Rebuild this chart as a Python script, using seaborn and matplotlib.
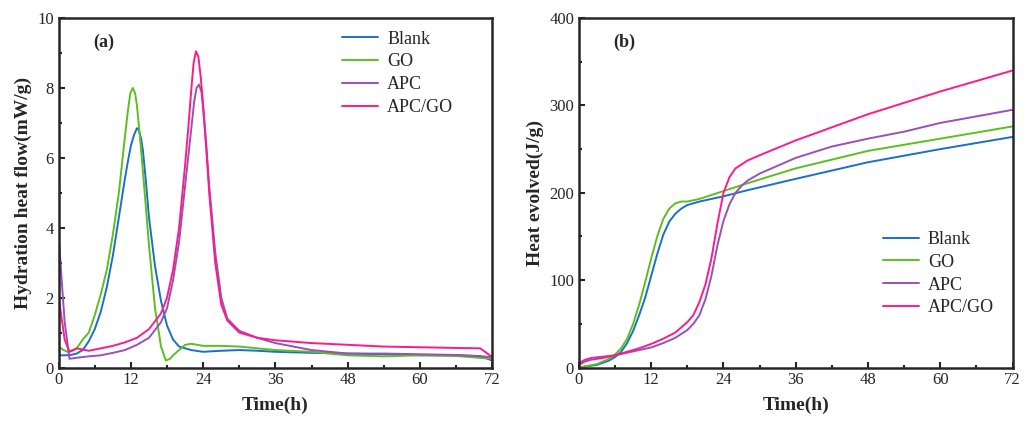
import numpy as np
import pandas as pd
import seaborn as sns
import matplotlib.pyplot as plt
from matplotlib.ticker import MultipleLocator

# ---- (a) hydration heat flow, mW/g ----
blank_t = [0, 1, 2, 3, 4, 5, 6, 7, 8, 9, 10, 11, 11.5, 12, 12.5, 13, 13.3, 13.7, 14, 14.5, 15, 16, 17, 18, 19, 20, 22, 24, 27, 30, 33, 36, 42, 48, 54, 60, 66, 70, 72]
blank_q = [0.35, 0.35, 0.36, 0.4, 0.5, 0.75, 1.1, 1.6, 2.3, 3.2, 4.3, 5.4, 5.9, 6.35, 6.65, 6.85, 6.8, 6.55, 6.2, 5.3, 4.3, 2.9, 1.9, 1.2, 0.8, 0.6, 0.5, 0.45, 0.48, 0.5, 0.48, 0.45, 0.42, 0.4, 0.38, 0.35, 0.35, 0.33, 0.2]

go_t = [0, 0.8, 1.5, 3, 4, 5, 6, 7, 8, 9, 10, 10.5, 11, 11.5, 11.9, 12.3, 12.7, 13, 13.5, 14, 15, 16, 17, 17.8, 18.5, 19, 20, 21, 22, 24, 27, 30, 36, 42, 48, 54, 60, 66, 72]
go_q = [0.6, 0.5, 0.45, 0.55, 0.8, 1.0, 1.5, 2.1, 2.8, 3.8, 5.0, 5.8, 6.6, 7.35, 7.85, 8.0, 7.85, 7.5, 6.6, 5.6, 3.5, 1.7, 0.6, 0.2, 0.25, 0.35, 0.5, 0.65, 0.68, 0.62, 0.62, 0.6, 0.5, 0.45, 0.35, 0.32, 0.35, 0.33, 0.25]

apc_t = [0, 0.5, 1, 1.8, 3, 5, 7, 9, 11, 13, 15, 17, 18, 19, 20, 21, 22, 22.5, 22.9, 23.3, 23.7, 24, 24.5, 25, 26, 27, 28, 30, 33, 36, 42, 48, 54, 60, 66, 72]
apc_q = [3.8, 2.5, 1.3, 0.25, 0.28, 0.32, 0.35, 0.42, 0.5, 0.65, 0.85, 1.3, 1.7, 2.5, 3.6, 5.2, 6.8, 7.6, 8.0, 8.1, 7.9, 7.4, 6.4, 5.2, 3.3, 2.0, 1.4, 1.05, 0.85, 0.7, 0.5, 0.4, 0.4, 0.38, 0.36, 0.3]

apcgo_t = [0, 0.5, 1, 1.8, 2.5, 3, 5, 7, 9, 11, 13, 15, 17, 18, 19, 20, 21, 21.5, 22, 22.4, 22.8, 23.2, 23.6, 24, 24.5, 25, 26, 27, 28, 30, 33, 36, 42, 48, 54, 60, 66, 70, 72]
apcgo_q = [2.0, 1.4, 0.8, 0.45, 0.5, 0.55, 0.48, 0.55, 0.62, 0.72, 0.85, 1.1, 1.55, 2.0, 2.8, 4.0, 5.8, 6.8, 7.9, 8.7, 9.05, 8.9, 8.3, 7.5, 6.3, 5.0, 3.0, 1.8, 1.35, 1.0, 0.85, 0.78, 0.7, 0.65, 0.6, 0.58, 0.56, 0.55, 0.3]

# ---- (b) cumulative heat, J/g ----
blank_ht = [0, 3, 5, 6, 7, 8, 9, 10, 11, 12, 13, 14, 15, 16, 17, 18, 20, 24, 28, 36, 48, 60, 72]
blank_h = [0, 3, 8, 12, 18, 28, 42, 60, 80, 105, 130, 152, 167, 176, 182, 186, 190, 196, 203, 216, 235, 250, 264]

go_ht = [0, 3, 5, 6, 7, 8, 9, 10, 11, 12, 13, 14, 15, 16, 17, 18, 20, 24, 28, 36, 48, 60, 72]
go_h = [0, 4, 10, 15, 22, 33, 50, 72, 98, 125, 150, 170, 182, 188, 190, 190, 193, 202, 211, 228, 248, 262, 276]

apc_ht = [0, 1, 2, 4, 6, 8, 10, 12, 14, 16, 18, 19, 20, 21, 22, 23, 24, 25, 26, 27, 28, 30, 36, 42, 48, 54, 60, 72]
apc_h = [5, 9, 11, 12.5, 14, 17, 20, 23, 28, 34, 43, 50, 60, 78, 105, 140, 168, 187, 200, 208, 214, 222, 240, 253, 262, 270, 280, 295]

apcgo_ht = [0, 1, 2, 4, 6, 8, 10, 12, 14, 16, 18, 19, 20, 21, 22, 23, 24, 25, 26, 28, 30, 36, 42, 48, 60, 72]
apcgo_h = [3, 7, 9, 11, 14, 18, 22, 27, 33, 40, 52, 60, 75, 95, 125, 165, 200, 218, 228, 237, 243, 260, 275, 290, 316, 340]

names = ["Blank", "GO", "APC", "APC/GO"]
colors = ["#1a6fcc", "#5cbf1e", "#9b4fb8", "#ff1a8c"]

flow = pd.concat([
    pd.DataFrame({"t": t, "v": v, "s": n})
    for t, v, n in zip([blank_t, go_t, apc_t, apcgo_t], [blank_q, go_q, apc_q, apcgo_q], names)
])
heat = pd.concat([
    pd.DataFrame({"t": t, "v": v, "s": n})
    for t, v, n in zip([blank_ht, go_ht, apc_ht, apcgo_ht], [blank_h, go_h, apc_h, apcgo_h], names)
])

sns.set_style("ticks")
plt.rcParams["font.family"] = ["Liberation Serif", "DejaVu Serif"]
plt.rcParams["xtick.direction"] = "in"
plt.rcParams["ytick.direction"] = "in"

fig, axes = plt.subplots(1, 2, figsize=(10.29, 4.21), dpi=100)
pal = dict(zip(names, colors))

for ax, df, ylim, ymaj, ylab, tag in [
    (axes[0], flow, 10, 2, "Hydration heat flow(mW/g)", "(a)"),
    (axes[1], heat, 400, 100, "Heat evolved(J/g)", "(b)"),
]:
    sns.lineplot(data=df, x="t", y="v", hue="s", palette=pal, ax=ax, lw=1.4, sort=False, estimator=None)
    ax.set_xlim(0, 72)
    ax.set_ylim(0, ylim)
    ax.xaxis.set_major_locator(MultipleLocator(12))
    ax.xaxis.set_minor_locator(MultipleLocator(6))
    ax.yaxis.set_major_locator(MultipleLocator(ymaj))
    ax.yaxis.set_minor_locator(MultipleLocator(ymaj / 2))
    ax.tick_params(which="major", length=4, width=1.5, labelsize=12)
    ax.tick_params(which="minor", length=2.5, width=1.5)
    for sp in ax.spines.values():
        sp.set_linewidth(1.8)
    ax.set_xlabel("Time(h)", fontsize=14, fontweight="bold", labelpad=6)
    ax.set_ylabel(ylab, fontsize=14, fontweight="bold")
    ax.text(0.08, 0.93, tag, transform=ax.transAxes, fontsize=13, fontweight="bold", va="center")

axes[0].legend(loc="upper right", bbox_to_anchor=(0.935, 0.995), frameon=False, fontsize=13,
               handlelength=2.0, handletextpad=0.5, labelspacing=0.32, borderaxespad=0.2)
axes[1].legend(loc="lower right", bbox_to_anchor=(0.995, 0.1), frameon=False, fontsize=13,
               handlelength=2.0, handletextpad=0.5, labelspacing=0.32)

plt.subplots_adjust(left=0.057, right=0.984, bottom=0.127, top=0.957, wspace=0.2)
fig.savefig("out.png", dpi=100)
